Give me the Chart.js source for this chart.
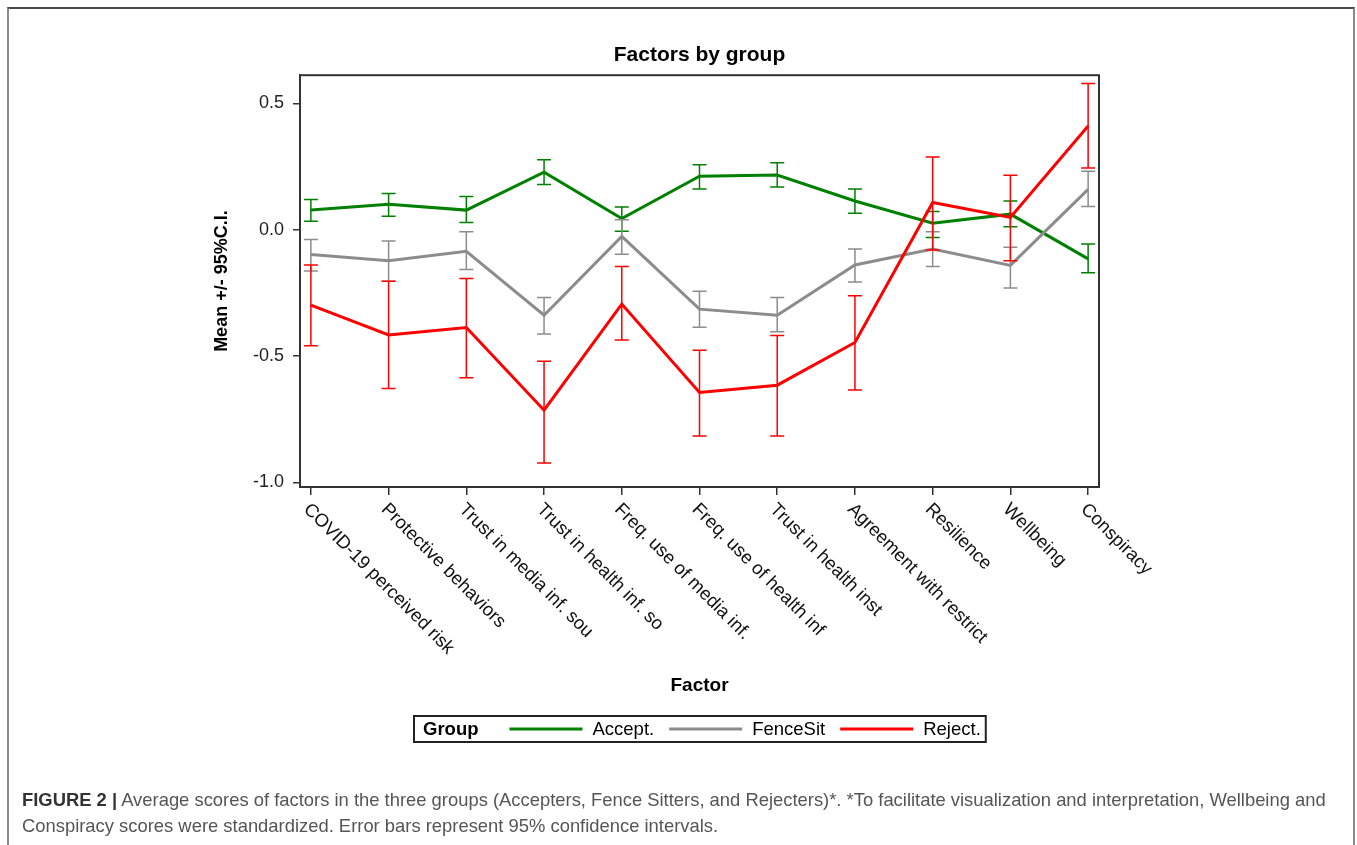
<!DOCTYPE html>
<html>
<head>
<meta charset="utf-8">
<title>Factors by group</title>
<script src="https://cdn.jsdelivr.net/npm/chart.js@4.4.1/dist/chart.umd.min.js"></script>
<style>
  html, body { margin: 0; padding: 0; background: #fff; overflow: hidden; }
  #frame {
    position: absolute; left: 7px; top: 7px; width: 1344px; height: 900px;
    border-top: 2px solid #4a4a4a; border-left: 2px solid #8a8a8a; border-right: 2px solid #8a8a8a;
  }
  #chart { position: absolute; left: 0; top: 0; }
  #caption {
    position: absolute; left: 22px; top: 787px;
    font: 18.4px/26px "Liberation Sans", Arial, sans-serif; color: #555; white-space: nowrap;
  }
  #caption b { color: #333; }
</style>
</head>
<body>
<div id="frame"></div>
<canvas id="chart" width="1357" height="845"></canvas>
<div id="caption"><b>FIGURE 2 |</b> Average scores of factors in the three groups (Accepters, Fence Sitters, and Rejecters)*. *To facilitate visualization and interpretation, Wellbeing and<br>Conspiracy scores were standardized. Error bars represent 95% confidence intervals.</div>

<script>
// ---- data ----
var factors = [
  'COVID-19 perceived risk', 'Protective behaviors', 'Trust in media inf. sou',
  'Trust in health inf. so', 'Freq. use of media inf.', 'Freq. use of health inf',
  'Trust in health inst', 'Agreement with restrict', 'Resilience', 'Wellbeing', 'Conspiracy'
];
var yTicks = [-1.0, -0.5, 0.0, 0.5];

var groups      = ['Accept.', 'FenceSit', 'Reject.'];
var groupColors = ['#008000', '#8c8c8c', '#ff0000'];

var acceptMean = [0.078, 0.101, 0.078, 0.228, 0.045, 0.212, 0.217, 0.114, 0.026, 0.062, -0.115];
var acceptLow  = [0.034, 0.054, 0.029, 0.179, -0.006, 0.162, 0.169, 0.066, -0.030, 0.012, -0.170];
var acceptHigh = [0.120, 0.144, 0.132, 0.277, 0.090, 0.258, 0.265, 0.162, 0.072, 0.114, -0.056];

var fenceMean = [-0.098, -0.122, -0.085, -0.338, -0.026, -0.314, -0.338, -0.139, -0.076, -0.141, 0.160];
var fenceLow  = [-0.163, -0.204, -0.157, -0.412, -0.097, -0.386, -0.403, -0.207, -0.145, -0.230, 0.092];
var fenceHigh = [-0.038, -0.044, -0.008, -0.268, 0.040, -0.243, -0.268, -0.076, -0.008, -0.069, 0.232];

var rejectMean = [-0.298, -0.416, -0.387, -0.714, -0.294, -0.644, -0.615, -0.446, 0.108, 0.049, 0.411];
var rejectLow  = [-0.459, -0.628, -0.586, -0.923, -0.436, -0.816, -0.816, -0.634, -0.080, -0.122, 0.245];
var rejectHigh = [-0.139, -0.204, -0.193, -0.520, -0.145, -0.477, -0.418, -0.261, 0.288, 0.216, 0.579];

var FONT = '"Liberation Sans", Arial, sans-serif';

function toPoints(arr) {
  return arr.map(function(v, i) { return { x: i, y: v }; });
}

function makeSet(idx, mean, lo, hi, order) {
  return {
    label: groups[idx],
    data: toPoints(mean),
    lo: lo,
    hi: hi,
    borderColor: groupColors[idx],
    backgroundColor: groupColors[idx],
    borderWidth: 3,
    pointRadius: 0,
    tension: 0,
    order: order,
  };
}

// error bar per dataset, digambar setelah garisnya
var errorBars = {
  id: 'errorBars',
  afterDatasetDraw: function(chart, args) {
    var ds = chart.data.datasets[args.index];
    var xs = chart.scales.x, ys = chart.scales.y, ctx = chart.ctx;
    ctx.save();
    ctx.strokeStyle = ds.borderColor;
    ctx.lineWidth = 1.5;
    ds.lo.forEach(function(lo, i) {
      var px = xs.getPixelForValue(i);
      var y1 = ys.getPixelForValue(lo), y2 = ys.getPixelForValue(ds.hi[i]);
      ctx.beginPath();
      ctx.moveTo(px, y1); ctx.lineTo(px, y2);
      ctx.moveTo(px - 7, y1); ctx.lineTo(px + 7, y1);
      ctx.moveTo(px - 7, y2); ctx.lineTo(px + 7, y2);
      ctx.stroke();
    });
    ctx.restore();
  }
};

// label faktor miring 45 derajat ke kanan bawah
var factorLabels = {
  id: 'factorLabels',
  afterDraw: function(chart) {
    var xs = chart.scales.x, ctx = chart.ctx, top = chart.chartArea.bottom + 13;
    ctx.save();
    ctx.font = '18.5px ' + FONT;
    ctx.fillStyle = '#111';
    ctx.textAlign = 'left';
    ctx.textBaseline = 'top';
    factors.forEach(function(f, i) {
      ctx.save();
      ctx.translate(xs.getPixelForValue(i) + 2, top);
      ctx.rotate(Math.PI / 4);
      ctx.fillText(f, 0, 0);
      ctx.restore();
    });
    ctx.restore();
  }
};

var plotFrame = {
  id: 'plotFrame',
  afterDraw: function(chart) {
    var a = chart.chartArea, ctx = chart.ctx;
    ctx.save();
    ctx.strokeStyle = '#333';
    ctx.lineWidth = 2;
    ctx.strokeRect(a.left, a.top, a.right - a.left, a.bottom - a.top);
    ctx.restore();
  }
};

// legend gaya SAS: "Group" + garis + nama
var groupLegend = {
  id: 'groupLegend',
  afterDraw: function(chart) {
    var ctx = chart.ctx, a = chart.chartArea;
    var by = 716, bh = 26, cy = by + bh / 2;
    var lineLen = 73, gapTxt = 10, gapNext = 15;
    ctx.save();
    ctx.textBaseline = 'middle';
    ctx.textAlign = 'left';

    // ukur dulu lebar total
    ctx.font = 'bold 18.5px ' + FONT;
    var w = 9 + ctx.measureText('Group').width + 31;
    ctx.font = '18.5px ' + FONT;
    groups.forEach(function(g, i) {
      w += lineLen + gapTxt + ctx.measureText(g).width + (i < groups.length - 1 ? gapNext : 5);
    });
    var bx = Math.round((a.left + a.right) / 2 - w / 2);

    ctx.strokeStyle = '#222';
    ctx.lineWidth = 2;
    ctx.strokeRect(bx, by, w, bh);

    var x = bx + 9;
    ctx.fillStyle = '#000';
    ctx.font = 'bold 18.5px ' + FONT;
    ctx.fillText('Group', x, cy + 1);
    x += ctx.measureText('Group').width + 31;

    ctx.font = '18.5px ' + FONT;
    groups.forEach(function(g, i) {
      ctx.strokeStyle = groupColors[i];
      ctx.lineWidth = 3;
      ctx.beginPath();
      ctx.moveTo(x, cy); ctx.lineTo(x + lineLen, cy);
      ctx.stroke();
      x += lineLen + gapTxt;
      ctx.fillStyle = '#000';
      ctx.fillText(g, x, cy + 1);
      x += ctx.measureText(g).width + gapNext;
    });
    ctx.restore();
  }
};

var chart = new Chart(document.getElementById('chart'), {
  type: 'line',
  data: {
    datasets: [
      makeSet(0, acceptMean, acceptLow, acceptHigh, 2),
      makeSet(1, fenceMean, fenceLow, fenceHigh, 1),
      makeSet(2, rejectMean, rejectLow, rejectHigh, 0),
    ],
  },
  options: {
    responsive: false,
    animation: false,
    layout: { padding: { left: 200, top: 43, right: 258, bottom: 148 } },
    plugins: {
      legend: { display: false },
      tooltip: { enabled: false },
      title: {
        display: true,
        text: 'Factors by group',
        fullSize: false,
        color: '#000',
        font: { family: FONT, size: 21, weight: 'bold' },
        padding: { top: 0, bottom: 7 },
      },
    },
    scales: {
      x: {
        type: 'linear',
        min: -0.14,
        max: factors.length - 1 + 0.14,
        afterBuildTicks: function(s) {
          s.ticks = factors.map(function(f, i) { return { value: i }; });
        },
        afterFit: function(s) { s.height = 210; },
        ticks: { display: false },
        grid: { drawOnChartArea: false, drawTicks: true, tickLength: 8, color: '#333', lineWidth: 1.5 },
        border: { display: true, color: '#333', width: 2 },
        title: {
          display: true, text: 'Factor', color: '#000',
          font: { family: FONT, size: 19, weight: 'bold' },
          padding: { top: 0, bottom: 0 },
        },
      },
      y: {
        min: -1.018,
        max: 0.612,
        afterBuildTicks: function(s) {
          s.ticks = yTicks.map(function(v) { return { value: v }; });
        },
        afterFit: function(s) { s.width = 100; },
        ticks: {
          color: '#222',
          padding: 9,
          font: { family: FONT, size: 18 },
          callback: function(v) { return v.toFixed(1); },
        },
        grid: { drawOnChartArea: false, drawTicks: true, tickLength: 7, color: '#333', lineWidth: 1.5 },
        border: { display: true, color: '#333', width: 2 },
        title: {
          display: true, text: 'Mean +/- 95%C.I.', color: '#000',
          font: { family: FONT, size: 18, weight: 'bold' },
          padding: { top: 11, bottom: 0 },
        },
      },
    },
  },
  plugins: [errorBars, factorLabels, plotFrame, groupLegend],
});
</script>
</body>
</html>
